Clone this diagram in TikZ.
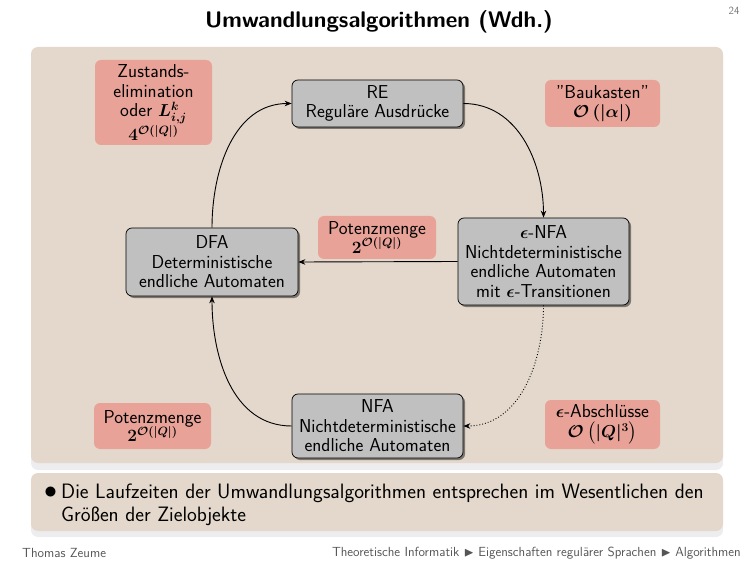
\documentclass[tikz,border=0pt]{standalone}
\usepackage{amsmath,amssymb,bm}
\usetikzlibrary{shadows,arrows.meta}
\definecolor{panel}{HTML}{E3D8CB}
\definecolor{band}{HTML}{EDEDF0}
\definecolor{redbox}{HTML}{E9A297}
\definecolor{graybox}{HTML}{C0C0C0}
\definecolor{footgray}{HTML}{555555}
\newcommand{\nfont}{\sffamily\fontsize{18.7}{19.5}\selectfont}
\tikzset{
  gnode/.style={draw=black, line width=0.7pt, fill=graybox, rounded corners=6pt, align=center,
    font=\nfont, inner sep=0pt,
    drop shadow={shadow xshift=2pt, shadow yshift=-2pt, fill=black, opacity=0.45}},
  rnode/.style={fill=redbox, rounded corners=6pt, align=center, font=\nfont\boldmath, inner sep=0pt},
  conn/.style={line width=0.9pt, -{Stealth[length=7pt,width=5.5pt]}},
}
\begin{document}
\begin{tikzpicture}[x=1pt, y=-1pt]
\useasboundingbox (0,0) rectangle (756,567);
% title and page number
\node[font=\sffamily\bfseries\fontsize{22.6}{26}\selectfont] (title) at (379,22) {Umwandlungsalgorithmen (Wdh.)};
\node[font=\sffamily\fontsize{11}{12}\selectfont, text=footgray!80, anchor=east] (pg) at (743,11) {24};
% panels
\fill[band, rounded corners=7pt] (31,51) rectangle (723,470);
\fill[panel, rounded corners=7pt] (31,47) rectangle (723,463);
\fill[band, rounded corners=7pt] (31,477) rectangle (723,537);
\fill[panel, rounded corners=7pt] (31,473) rectangle (723,531);
% gray nodes
\node[gnode, minimum width=171pt, minimum height=47pt] (re) at (377.5,103.5) {RE\\Reguläre Ausdrücke};
\node[gnode, minimum width=172pt, minimum height=68pt] (dfa) at (212,262) {DFA\\Deterministische\\endliche Automaten};
\node[gnode, minimum width=171pt, minimum height=87pt] (enfa) at (543.5,261.5) {$\bm{\epsilon}$-NFA\\Nichtdeterministische\\endliche Automaten\\mit $\bm{\epsilon}$-Transitionen};
\node[gnode, minimum width=171pt, minimum height=64pt] (nfa) at (377.5,426) {NFA\\Nichtdeterministische\\endliche Automaten};
% red nodes
\node[rnode, minimum width=117pt, minimum height=85pt] (zust) at (153.5,102.5) {Zustands-\\elimination\\oder $L^k_{i,j}$\\$4^{\mathcal{O}(|Q|)}$};
\node[rnode, minimum width=115pt, minimum height=47pt] (bauk) at (602.5,103.5) {"Baukasten"\\$\mathcal{O}\left(|\alpha|\right)$};
\node[rnode, minimum width=118pt, minimum height=43pt] (potm) at (377,237.5) {Potenzmenge\\[-1pt]$2^{\mathcal{O}(|Q|)}$};
\node[rnode, minimum width=117pt, minimum height=46pt] (potb) at (152.5,426) {Potenzmenge\\[-1pt]$2^{\mathcal{O}(|Q|)}$};
\node[rnode, minimum width=115pt, minimum height=49pt] (absch) at (602.5,424.5) {$\epsilon$-Abschlüsse\\[1pt]$\mathcal{O}\left(|Q|^3\right)$};
% connectors
\draw[conn] (dfa.north) to[out=90, in=180] (re.west);
\draw[conn] (re.east) to[out=0, in=90] (enfa.north);
\draw[conn] (enfa.west) -- (dfa.east);
\draw[conn] (nfa.west) to[out=180, in=-90] (dfa.south);
\draw[conn, dotted] (enfa.south) to[out=-90, in=0] (nfa.east);
% bullet text
\node[font=\sffamily\fontsize{20.8}{23}\selectfont, anchor=north west, align=left, inner sep=0pt] (bul) at (44,484)
  {\makebox[17pt][l]{\raisebox{0pt}{\scalebox{1.25}{$\bullet$}}}Die Laufzeiten der Umwandlungsalgorithmen entsprechen im Wesentlichen den\\\hspace*{17pt}Größen der Zielobjekte};
% footer
\node[font=\sffamily\fontsize{13.2}{15}\selectfont, text=footgray, anchor=west, inner sep=0pt] (fl) at (22,553) {Thomas Zeume};
\node[font=\sffamily\fontsize{13.2}{15}\selectfont, text=footgray, anchor=east, inner sep=0pt] (fr) at (741,553)
  {Theoretische Informatik $\blacktriangleright$ Eigenschaften regulärer Sprachen $\blacktriangleright$ Algorithmen};
\end{tikzpicture}
\end{document}
